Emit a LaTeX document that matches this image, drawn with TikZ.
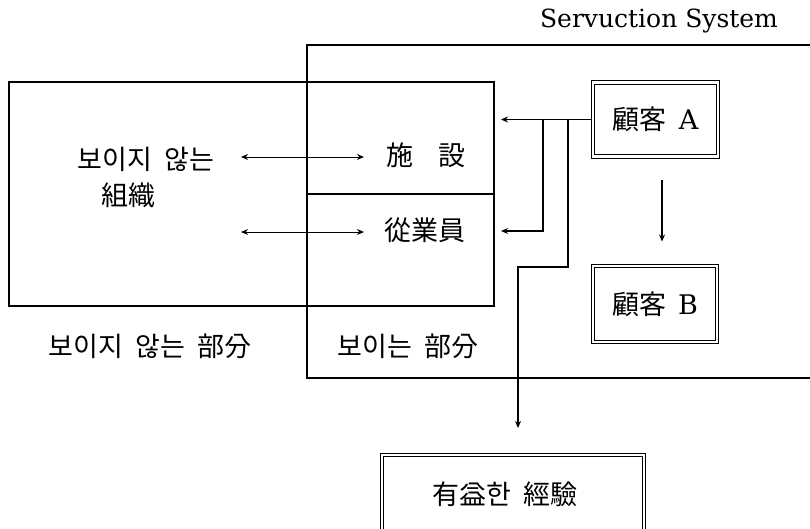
\documentclass[tikz,border=0pt]{standalone}
\usepackage{fontspec}
\usetikzlibrary{arrows.meta}
\newfontfamily\kr{Noto Sans CJK KR}
\newfontfamily\serifx{DejaVu Serif}
\newcommand{\wsp}{\hspace{0.45em}}
\begin{document}
\begin{tikzpicture}[x=1pt,y=-1pt,line width=1.2pt,
  lbl/.style={font=\kr\fontsize{27}{31}\selectfont,inner sep=0pt},
  dbox/.style={draw,double,double distance=2.4pt,line width=1.1pt,inner sep=0pt,font=\kr\fontsize{27}{31}\selectfont},
  arr/.style={-{Stealth[length=7pt,width=6pt]}},
  darr/.style={{Stealth[length=7pt,width=6pt]}-{Stealth[length=7pt,width=6pt]},line width=1pt},
  plain/.style={draw,inner sep=0pt}]
\useasboundingbox (0,0) rectangle (810,528);
\clip (0,0) rectangle (810,528);
% system frame (open to the right)
\coordinate (sysTR) at (815,45);
\coordinate (sysTL) at (307,45);
\coordinate (sysBL) at (307,378);
\coordinate (sysBR) at (815,378);
\draw (sysTR) -- (sysTL) -- (sysBL) -- (sysBR);
% organisation boxes
\node[plain,minimum width=485pt,minimum height=224pt] (org) at (251.5,194) {};
\node[plain,minimum width=187pt,minimum height=112pt] (fac) at (400.5,138) {};
\node[plain,minimum width=187pt,minimum height=112pt] (emp) at (400.5,250) {};
% labels
\node[font=\serifx\fontsize{25}{29}\selectfont,inner sep=0pt,anchor=base] (title) at (659,27) {Servuction System};
\node[lbl] (hid) at (146,159) {보이지\wsp 않는};
\node[lbl] (orgname) at (128,195) {組織};
\node[lbl] (faclbl) at (426,155) {施\hspace{0.95em}設};
\node[lbl] (emplbl) at (425,230) {從業員};
\node[lbl] (invis) at (150,346) {보이지\wsp 않는\wsp 部分};
\node[lbl] (vis) at (408,346) {보이는\wsp 部分};
% customers and result
\node[dbox,minimum width=125pt,minimum height=74pt] (A) at (655.5,119.5) {顧客\wsp{\serifx A}};
\node[dbox,minimum width=124pt,minimum height=76pt] (B) at (655,304) {顧客\wsp{\serifx B}};
\node[dbox,minimum width=262pt,minimum height=90pt] (exp) at (513,500) {};
\node[lbl] (explbl) at (505,494) {有益한\wsp 經驗};
% double arrows
\coordinate (h1l) at (241,157);
\coordinate (h1r) at (364,157);
\coordinate (h2l) at (241,232);
\coordinate (h2r) at (364,232);
\draw[darr] (h1l) -- (h1r);
\draw[darr] (h2l) -- (h2r);
% arrows from customer A
\coordinate (tipF) at (501,119.5);
\coordinate (j1) at (543,119.5);
\coordinate (tipE) at (501,231);
\coordinate (j2) at (568,119.5);
\coordinate (k) at (518,267);
\coordinate (tipX) at (518,428);
\draw[arr] (A.west) -- (tipF);
\draw[arr] (j1) -- (j1 |- tipE) -- (tipE);
\draw[arr] (j2) |- (k) -- (tipX);
\draw[arr] ([xshift=6.5pt,yshift=-23pt]A.south) -- ([xshift=7pt,yshift=24pt]B.north);
\end{tikzpicture}
\end{document}
